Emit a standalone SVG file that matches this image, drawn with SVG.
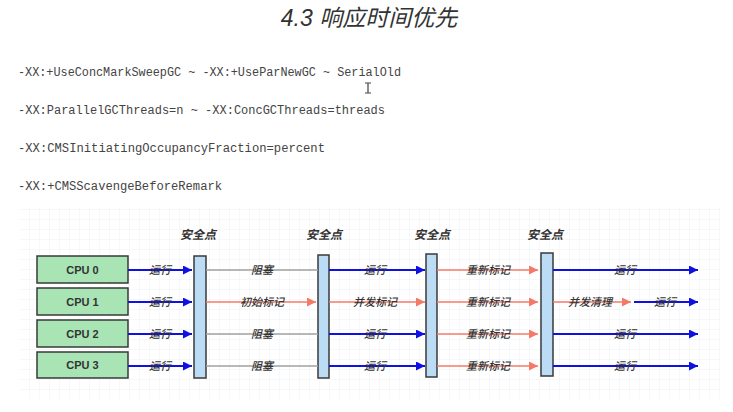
<svg xmlns="http://www.w3.org/2000/svg" width="733" height="412" viewBox="0 0 733 412">
<defs>
<pattern id="grid" width="10" height="10" patternUnits="userSpaceOnUse">
<path d="M10 0 V10 M0 10 H10" fill="none" stroke="#eef0f2" stroke-width="1"/>
</pattern>
<marker id="ab" viewBox="0 0 10 10" refX="10" refY="5" markerWidth="12" markerHeight="9" markerUnits="userSpaceOnUse" orient="auto"><path d="M0 0 L10 5 L0 10 Z" fill="#1010e0"/></marker>
<marker id="ar" viewBox="0 0 10 10" refX="10" refY="5" markerWidth="12" markerHeight="9" markerUnits="userSpaceOnUse" orient="auto"><path d="M0 0 L10 5 L0 10 Z" fill="#f47a68"/></marker>
</defs>
<style>
.title{font-family:"Liberation Sans","Noto Sans CJK SC",sans-serif;font-size:23px;font-style:italic;fill:#333}
.code{font-family:"Liberation Mono","DejaVu Sans Mono",monospace;font-size:12.5px;fill:#444}
.cpu rect{fill:#a8e4b4;stroke:#3a3a3a;stroke-width:1.5}
.cpu text{font-family:"Liberation Sans","Noto Sans CJK SC",sans-serif;font-size:11px;font-weight:bold;fill:#333;text-anchor:middle}
.sp rect{fill:#bcdcf6;stroke:#3a3a3a;stroke-width:1.5}
.sp text{font-family:"Noto Sans CJK SC",sans-serif;font-size:12px;font-weight:bold;font-style:italic;fill:#333;text-anchor:middle}
.b{stroke:#1010e0;stroke-width:2;fill:none;marker-end:url(#ab)}
.r{stroke:#f47a68;stroke-width:1.6;fill:none;marker-end:url(#ar)}
.g{stroke:#a0a0a0;stroke-width:1.6;fill:none}
.lb{font-family:"Noto Sans CJK SC",sans-serif;font-size:11px;font-weight:500;font-style:italic;fill:#333;text-anchor:middle}
</style>
<rect width="733" height="412" fill="#ffffff"/>
<text class="title" x="369" y="26" text-anchor="middle">4.3 响应时间优先</text>
<text class="code" x="18" y="76" textLength="383" lengthAdjust="spacingAndGlyphs">-XX:+UseConcMarkSweepGC ~ -XX:+UseParNewGC ~ SerialOld</text>
<text class="code" x="18" y="114" textLength="367" lengthAdjust="spacingAndGlyphs">-XX:ParallelGCThreads=n ~ -XX:ConcGCThreads=threads</text>
<text class="code" x="18" y="152" textLength="307" lengthAdjust="spacingAndGlyphs">-XX:CMSInitiatingOccupancyFraction=percent</text>
<text class="code" x="18" y="190" textLength="204" lengthAdjust="spacingAndGlyphs">-XX:+CMSScavengeBeforeRemark</text>
<path d="M365 83 H371 M368 83 V93 M365 93 H371" stroke="#444" stroke-width="1.2" fill="none"/>
<rect x="20" y="207" width="700" height="192" fill="url(#grid)"/>
<g id="cpu0" class="cpu"><rect x="37" y="256" width="91" height="27"/><text x="82.5" y="273.5">CPU 0</text></g>
<g id="cpu1" class="cpu"><rect x="37" y="288" width="91" height="27"/><text x="82.5" y="305.5">CPU 1</text></g>
<g id="cpu2" class="cpu"><rect x="37" y="320" width="91" height="27"/><text x="82.5" y="337.5">CPU 2</text></g>
<g id="cpu3" class="cpu"><rect x="37" y="352" width="91" height="26"/><text x="82.5" y="369">CPU 3</text></g>
<g id="sp1" class="sp"><text x="198" y="239">安全点</text><rect x="194" y="256" width="12" height="122"/></g>
<g id="sp2" class="sp"><text x="324" y="239">安全点</text><rect x="318" y="255" width="11" height="123"/></g>
<g id="sp3" class="sp"><text x="432" y="239">安全点</text><rect x="426" y="254" width="11" height="123"/></g>
<g id="sp4" class="sp"><text x="545" y="239">安全点</text><rect x="541" y="253" width="12" height="123"/></g>
<g id="connectors">
<path class="b" d="M128 270 H192"/><path class="b" d="M128 302 H192"/><path class="b" d="M128 334 H192"/><path class="b" d="M128 366 H192"/>
<path class="g" d="M206 270 H318"/><path class="r" d="M206 302 H316"/><path class="g" d="M206 334 H318"/><path class="g" d="M206 366 H318"/>
<path class="b" d="M329 270 H425"/><path class="r" d="M329 302 H425"/><path class="b" d="M329 334 H425"/><path class="b" d="M329 366 H425"/>
<path class="r" d="M437 270 H538"/><path class="r" d="M437 302 H538"/><path class="r" d="M437 334 H538"/><path class="r" d="M437 366 H538"/>
<path class="b" d="M553 270 H698"/><path class="r" d="M553 302 H631"/><path class="b" d="M634 302 H698"/><path class="b" d="M553 334 H698"/><path class="b" d="M553 366 H698"/>
<text class="lb" x="160" y="274">运行</text><text class="lb" x="160" y="306">运行</text><text class="lb" x="160" y="338">运行</text><text class="lb" x="160" y="370">运行</text>
<text class="lb" x="262" y="274">阻塞</text><text class="lb" x="262" y="306">初始标记</text><text class="lb" x="262" y="338">阻塞</text><text class="lb" x="262" y="370">阻塞</text>
<text class="lb" x="375" y="274">运行</text><text class="lb" x="375" y="306">并发标记</text><text class="lb" x="375" y="338">运行</text><text class="lb" x="375" y="370">运行</text>
<text class="lb" x="488" y="274">重新标记</text><text class="lb" x="488" y="306">重新标记</text><text class="lb" x="488" y="338">重新标记</text><text class="lb" x="488" y="370">重新标记</text>
<text class="lb" x="625" y="274">运行</text><text class="lb" x="590" y="306">并发清理</text><text class="lb" x="665" y="306">运行</text><text class="lb" x="625" y="338">运行</text><text class="lb" x="625" y="370">运行</text>
</g>
</svg>
